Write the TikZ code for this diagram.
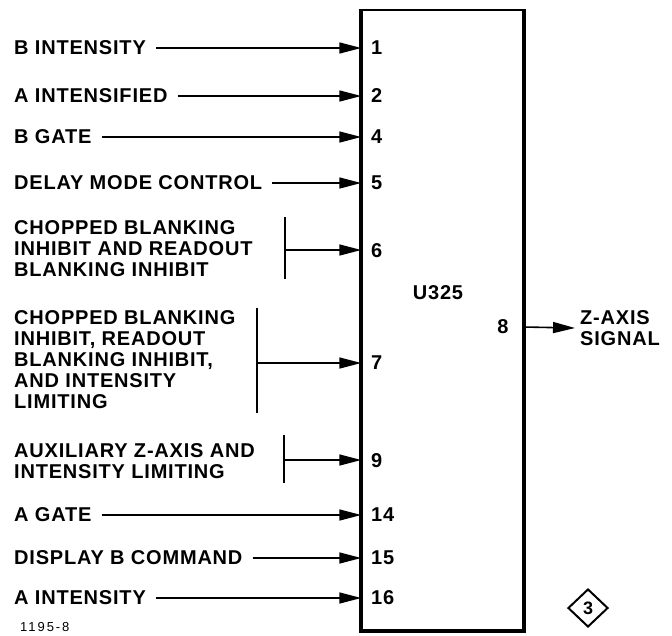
\documentclass[tikz,border=0pt]{standalone}
\usepackage{fontspec}
\setmainfont{Liberation Sans}[LetterSpace=4]
\newfontfamily\plainfont{Liberation Sans}[LetterSpace=15]
\usetikzlibrary{arrows.meta,shapes.geometric}
\begin{document}
\begin{tikzpicture}[x=1pt,y=-1pt,
  lbl/.style={anchor=west,inner sep=0pt,font=\fontsize{20}{21}\selectfont\bfseries,align=left},
  pin/.style={inner sep=0pt,font=\fontsize{20}{21}\selectfont\bfseries},
  arr/.style={line width=1.6pt,-{Triangle[length=22pt,width=11pt]}},
  brk/.style={line width=2pt}]
\useasboundingbox (0,0) rectangle (672,635);
% chip
\node[draw,line width=1.5pt,minimum width=161pt,minimum height=620pt,inner sep=0pt] (chip) at (442.5,320) {};
\draw[line width=4pt] (chip.north west) -- (chip.south west) -- (chip.south east) -- (chip.north east);
\node[pin] (name) at (438,293) {U325};
% single inputs
\foreach \nm/\t/\p/\y in {l1/B INTENSITY/1/48, l2/A INTENSIFIED/2/96, l4/B GATE/4/137, l5/DELAY MODE CONTROL/5/183, l14/A GATE/14/515, l15/DISPLAY B COMMAND/15/558, l16/A INTENSITY/16/598}{
  \node[lbl] (\nm) at (14,\y) {\t};
  \node[pin,anchor=west] (p\nm) at (371,\y) {\p};
  \draw[arr] ([xshift=10pt]\nm.east) -- (\nm.east -| chip.west);
}
% group 6
\node[lbl] (l6) at (14,249) {CHOPPED BLANKING\\INHIBIT AND READOUT\\BLANKING INHIBIT};
\coordinate (b6t) at (285,217); \coordinate (b6b) at (285,279); \coordinate (b6m) at (285,250);
\draw[brk] (b6t) -- (b6b);
\draw[arr] (b6m) -- (b6m -| chip.west);
\node[pin,anchor=west] (p6) at (371,251) {6};
% group 7
\node[lbl] (l7) at (14,360) {CHOPPED BLANKING\\INHIBIT, READOUT\\BLANKING INHIBIT,\\AND INTENSITY\\LIMITING};
\coordinate (b7t) at (257,308); \coordinate (b7b) at (257,413); \coordinate (b7m) at (257,363);
\draw[brk] (b7t) -- (b7b);
\draw[arr] (b7m) -- (b7m -| chip.west);
\node[pin,anchor=west] (p7) at (371,363) {7};
% group 9
\node[lbl] (l9) at (14,461) {AUXILIARY Z-AXIS AND\\INTENSITY LIMITING};
\coordinate (b9t) at (284,435); \coordinate (b9b) at (284,483); \coordinate (b9m) at (284,460);
\draw[brk] (b9t) -- (b9b);
\draw[arr] (b9m) -- (b9m -| chip.west);
\node[pin,anchor=west] (p9) at (371,461) {9};
% output
\node[pin] (p8) at (503,327) {8};
\node[lbl] (out) at (580,328) {Z-AXIS\\SIGNAL};
\draw[arr] (p8 -| chip.east) -- ([xshift=-5pt]out.west);
% misc
\node[draw,diamond,line width=2pt,minimum width=40pt,minimum height=38pt,inner sep=0pt,font=\fontsize{18}{18}\selectfont\bfseries] (dia) at (588,608) {3};
\node[anchor=west,inner sep=0pt,font=\plainfont\fontsize{13}{14}\selectfont] (fig) at (20,627) {1195-8};
\end{tikzpicture}
\end{document}
